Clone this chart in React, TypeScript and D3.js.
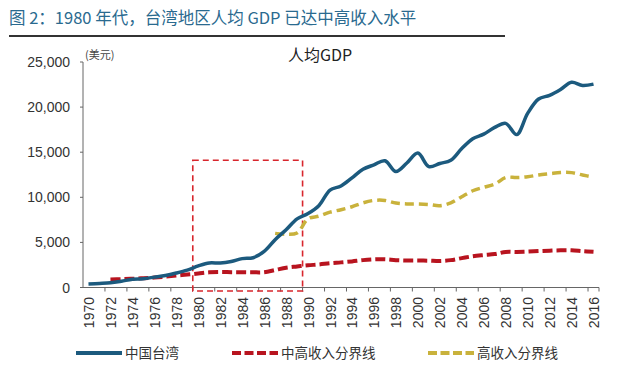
import React from "react";
import * as d3 from "d3";

// 1970 - 2016
const years = d3.range(1970, 2017);

// 中国台湾 人均GDP (美元)
const taiwan = [
  400, 450, 520, 700, 920, 980, 1150, 1330, 1600, 1930,
  2390, 2720, 2710, 2880, 3200, 3300, 4000, 5300, 6400, 7600,
  8200, 9100, 10800, 11250, 12150, 13100, 13600, 14050, 12850, 13800,
  14900, 13400, 13750, 14100, 15400, 16500, 17000, 17750, 18200, 16950,
  19300, 20900, 21300, 21950, 22750, 22400, 22550,
];

// 中高收入分界线 (starts 1972)
const upperMiddle = [
  null, null, 880, 920, 970, 1030, 1100, 1200, 1320, 1430,
  1550, 1680, 1720, 1700, 1690, 1680, 1700, 1940, 2200, 2335,
  2465, 2555, 2695, 2785, 2895, 3035, 3115, 3125, 3030, 2995,
  2995, 2975, 2935, 3035, 3255, 3465, 3595, 3705, 3945, 3945,
  3975, 4035, 4085, 4125, 4125, 4035, 3955,
];

// 高收入分界线 (starts 1987)
const highIncome = [
  null, null, null, null, null, null, null, null, null, null,
  null, null, null, null, null, null, null, 6000, 5900, 6050,
  7620, 7910, 8355, 8625, 8955, 9385, 9655, 9655, 9360, 9265,
  9265, 9205, 9075, 9385, 10065, 10725, 11115, 11455, 12195, 12195,
  12275, 12475, 12615, 12745, 12735, 12475, 12235,
];

const yTicks = [0, 5000, 10000, 15000, 20000, 25000];

const W = 640;
const H = 371;
const left = 83;
const right = 599;
const top = 62;
const bottom = 287.5;

const font = "'Liberation Sans', Arial, 'Noto Sans CJK SC', sans-serif";
const cjk = "'Noto Sans CJK SC', 'Liberation Sans', sans-serif";

const BLUE = "#1c5a7e";
const RED = "#b8141f";
const GOLD = "#c9b23c";

const App = () => {
  const x = d3.scaleBand<number>().domain(years).range([left, right]).padding(0);
  const y = d3.scaleLinear().domain([0, 25000]).range([bottom, top]);
  const cx = (yr: number) => (x(yr) as number) + x.bandwidth() / 2;

  const line = d3
    .line<number | null>()
    .defined((d) => d !== null)
    .x((_, i) => cx(years[i]))
    .y((d) => y(d as number))
    .curve(d3.curveCatmullRom.alpha(0.5));

  const labelYears = years.filter((yr) => (yr - 1970) % 2 === 0);
  const tickYears = years.filter((yr) => (yr - 1970) % 2 === 0 && yr > 1970);

  const boxX0 = x(1980) as number;
  const boxX1 = x(1990) as number;

  return (
    <svg width={W} height={H} style={{ position: "absolute", left: 0, top: 0, background: "#fff" }}>
      {/* title */}
      <text x={9} y={24} fontFamily={cjk} fontSize={16.5} fill="#2a6a8f">
        图 2：1980 年代，台湾地区人均 GDP 已达中高收入水平
      </text>
      <line x1={9} x2={505} y1={36} y2={36} stroke="#333" strokeWidth={2} />

      <text x={320} y={61} textAnchor="middle" fontFamily={cjk} fontSize={16} fill="#222">
        人均GDP
      </text>
      <text x={85} y={59} fontFamily={cjk} fontSize={11} fill="#444">
        (美元)
      </text>

      {/* y axis */}
      <line x1={left} x2={left} y1={top} y2={bottom} stroke="#666" strokeWidth={1} />
      {yTicks.map((t) => (
        <g key={t}>
          <line x1={left - 3} x2={left} y1={y(t)} y2={y(t)} stroke="#666" />
          <text x={70} y={y(t) + 5} textAnchor="end" fontFamily={font} fontSize={14} fill="#333">
            {d3.format(",")(t)}
          </text>
        </g>
      ))}

      {/* x axis */}
      <line x1={left} x2={right} y1={bottom} y2={bottom} stroke="#666" strokeWidth={1} />
      {tickYears.map((yr) => (
        <line key={yr} x1={x(yr)} x2={x(yr)} y1={bottom} y2={bottom + 4} stroke="#666" />
      ))}
      <line x1={right} x2={right} y1={bottom} y2={bottom + 4} stroke="#666" />
      {labelYears.map((yr) => (
        <text
          key={yr}
          transform={`translate(${cx(yr) + 5.5},${297}) rotate(-90)`}
          textAnchor="end"
          fontFamily={font}
          fontSize={14}
          fill="#333"
        >
          {yr}
        </text>
      ))}

      {/* highlight box */}
      <rect
        x={boxX0}
        y={y(14100)}
        width={boxX1 - boxX0}
        height={291 - y(14100)}
        fill="none"
        stroke="#d8262d"
        strokeWidth={1.6}
        strokeDasharray="6 4"
      />

      {/* series */}
      <path d={line(upperMiddle) || ""} fill="none" stroke={RED} strokeWidth={4} strokeDasharray="10 4" />
      <path d={line(highIncome) || ""} fill="none" stroke={GOLD} strokeWidth={3.5} strokeDasharray="9 5" />
      <path d={line(taiwan) || ""} fill="none" stroke={BLUE} strokeWidth={3.5} />

      {/* legend */}
      <g fontFamily={cjk} fontSize={13.5} fill="#333">
        <line x1={76} x2={122} y1={353} y2={353} stroke={BLUE} strokeWidth={4} />
        <text x={125} y={358}>中国台湾</text>
        <line x1={232} x2={278} y1={353} y2={353} stroke={RED} strokeWidth={4} strokeDasharray="9 3.5" />
        <text x={281} y={358}>中高收入分界线</text>
        <line x1={428} x2={474} y1={353} y2={353} stroke={GOLD} strokeWidth={4} strokeDasharray="9 3.5" />
        <text x={477} y={358}>高收入分界线</text>
      </g>
    </svg>
  );
};

export default App;
